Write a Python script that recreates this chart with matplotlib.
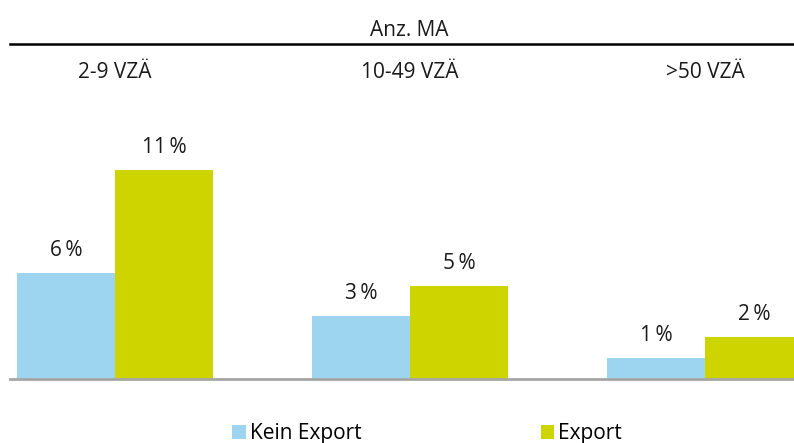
import matplotlib

matplotlib.use("Agg")
import matplotlib.pyplot as plt
from matplotlib.patches import Patch
from matplotlib.lines import Line2D

plt.rcParams["font.family"] = ["Open Sans", "DejaVu Sans"]

groups = ["2-9 VZÄ", "10-49 VZÄ", ">50 VZÄ"]
series = ["Kein Export", "Export"]
kein_export = [5.6, 3.3, 1.1]
export = [11.0, 4.9, 2.2]
kein_labels = ["6\u2009%", "3\u2009%", "1\u2009%"]
export_labels = ["11\u2009%", "5\u2009%", "2\u2009%"]
header = "Anz. MA"

BLUE = "#9DD5F0"
GREEN = "#CDD400"

W, H = 794, 443
fig = plt.figure(figsize=(W / 100, H / 100), dpi=100)

# axes placed in pixel space: x 10..794, y baseline 379, top 100
ax = fig.add_axes([10 / W, (H - 379) / H, 784 / W, 279 / H])
bw = 98 / 295
x = list(range(len(groups)))
b1 = ax.bar([i - bw / 2 for i in x], kein_export, width=bw, color=BLUE)
b2 = ax.bar([i + bw / 2 for i in x], export, width=bw, color=GREEN)
ax.set_xlim(-105 / 295, 679 / 295)
ax.set_ylim(0, 279 / 19)

for bars, labels in ((b1, kein_labels), (b2, export_labels)):
    for rect, lab in zip(bars, labels):
        ax.annotate(lab, (rect.get_x() + rect.get_width() / 2, rect.get_height()),
                    xytext=(0, 8.5), textcoords="offset points",
                    ha="center", va="bottom", fontsize=15, color="#1a1a1a")

for s in ax.spines.values():
    s.set_visible(False)
ax.axhline(0, color="#A6A6A6", linewidth=2, clip_on=False)
ax.set_xticks([])
ax.set_yticks([])

# header and group labels
fig.text(409 / W, 1 - 30 / H, header, ha="center", va="center", fontsize=15, color="#1a1a1a")
fig.add_artist(Line2D([10 / W, 1.0], [1 - 44 / H, 1 - 44 / H], color="black", linewidth=1.8))
for i, g in enumerate(groups):
    gx = (10 + (i + 105 / 295) * 295) / W
    fig.text(gx, 1 - 73 / H, g, ha="center", va="center", fontsize=15, color="#1a1a1a")

handles = [Patch(facecolor=BLUE, edgecolor="none"), Patch(facecolor=GREEN, edgecolor="none")]
fig.legend(handles, series, loc="center", bbox_to_anchor=(427 / W, 1 - 434 / H), ncol=2,
           frameon=False, fontsize=15, handlelength=0.65, handleheight=0.65,
           handletextpad=0.2, columnspacing=8.6, borderpad=0)

fig.savefig("out.png", dpi=100)
